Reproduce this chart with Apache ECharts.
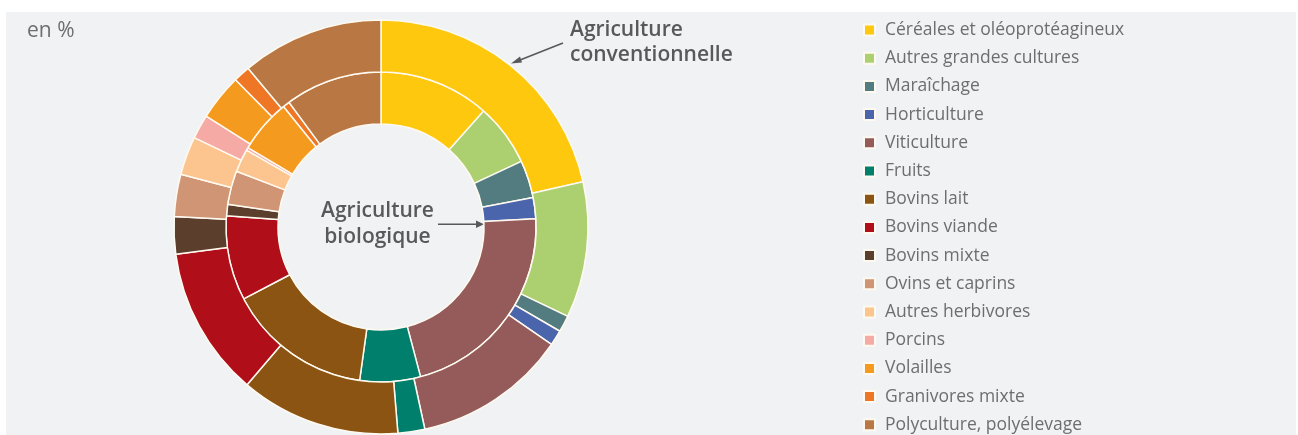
<!DOCTYPE html>
<html>
<head>
<meta charset="utf-8">
<script src="https://cdn.jsdelivr.net/npm/echarts@6/dist/echarts.min.js"></script>
<style>
html,body{margin:0;padding:0;background:#ffffff;}
#panel{position:absolute;left:6px;top:12px;width:1290px;height:423px;background:#f1f2f4;}
#chart{position:absolute;left:0;top:0;width:1298px;height:435px;}
</style>
</head>
<body>
<div id="panel"></div>
<div id="chart"></div>
<script>
// Categories (legend order, clockwise from top)
const categories = [
  "Céréales et oléoprotéagineux",
  "Autres grandes cultures",
  "Maraîchage",
  "Horticulture",
  "Viticulture",
  "Fruits",
  "Bovins lait",
  "Bovins viande",
  "Bovins mixte",
  "Ovins et caprins",
  "Autres herbivores",
  "Porcins",
  "Volailles",
  "Granivores mixte",
  "Polyculture, polyélevage"
];
// Outer ring: Agriculture conventionnelle (en %)
const conventionnelle = [21.5, 10.6, 1.3, 1.2, 12.0, 2.1, 12.5, 11.7, 2.9, 3.3, 3.0, 1.9, 3.6, 1.3, 11.1];
// Inner ring: Agriculture biologique (en %)
const biologique = [11.5, 6.5, 3.9, 2.2, 21.7, 6.3, 15.1, 8.8, 1.2, 3.5, 2.4, 0.3, 5.6, 0.7, 10.1];
const colors = ["#fec80e", "#acd070", "#527c80", "#4b65ac", "#955b5a", "#00806c", "#8c5413", "#b00f1a", "#5b3e2c", "#cf9574", "#fcc48e", "#f6aaa6", "#f49b1f", "#ee7624", "#b87743"];

const chart = echarts.init(document.getElementById('chart'), null, {renderer: 'canvas'});
const textColor = '#6d6e71';
const labelColor = '#58595b';
const font = '"Open Sans", "Noto Sans", sans-serif';

function ringData(vals) {
  return categories.map((c, i) => ({name: c, value: vals[i], itemStyle: {color: colors[i]}}));
}

const pieCommon = {
  type: 'pie',
  center: [381, 227],
  startAngle: 90,
  clockwise: true,
  label: {show: false},
  labelLine: {show: false},
  emphasis: {disabled: true},
  itemStyle: {borderColor: '#fffaf0', borderWidth: 1.5},
  animation: false,
  silent: true
};

chart.setOption({
  backgroundColor: 'transparent',
  animation: false,
  legend: {
    orient: 'vertical',
    left: 858,
    top: 16,
    height: 420,
    icon: 'rect',
    itemWidth: 11,
    itemHeight: 11,
    itemGap: 10.2,
    data: categories,
    selectedMode: false,
    textStyle: {color: textColor, fontSize: 17.5, fontFamily: font, lineHeight: 18, padding: [0, 0, 0, 5]}
  },
  series: [
    Object.assign({}, pieCommon, {name: 'Agriculture biologique', radius: [103, 155], data: ringData(biologique)}),
    Object.assign({}, pieCommon, {name: 'Agriculture conventionnelle', radius: [155, 207], data: ringData(conventionnelle)})
  ],
  graphic: [
    {type: 'text', x: 27, y: 31, style: {text: 'en %', fill: textColor, font: '21px ' + font, textVerticalAlign: 'middle'}},
    {type: 'text', x: 570, y: 42.5, style: {text: 'Agriculture\nconventionnelle', fill: labelColor, font: '600 21px ' + font, lineHeight: 25, textVerticalAlign: 'middle'}},
    {type: 'line', shape: {x1: 563, y1: 43, x2: 515, y2: 62}, style: {stroke: labelColor, lineWidth: 1.6}},
    {type: 'polygon', shape: {points: [[511, 63.5], [520, 56.5], [522, 62.5]]}, style: {fill: labelColor}},
    {type: 'text', x: 377.5, y: 224, style: {text: 'Agriculture\nbiologique', fill: labelColor, font: '600 21px ' + font, lineHeight: 26, align: 'center', textVerticalAlign: 'middle'}},
    {type: 'line', shape: {x1: 438, y1: 224.3, x2: 478, y2: 224.3}, style: {stroke: labelColor, lineWidth: 1.6}},
    {type: 'polygon', shape: {points: [[484, 224.3], [476, 220.5], [476, 228.1]]}, style: {fill: labelColor}}
  ]
});
</script>
</body>
</html>
